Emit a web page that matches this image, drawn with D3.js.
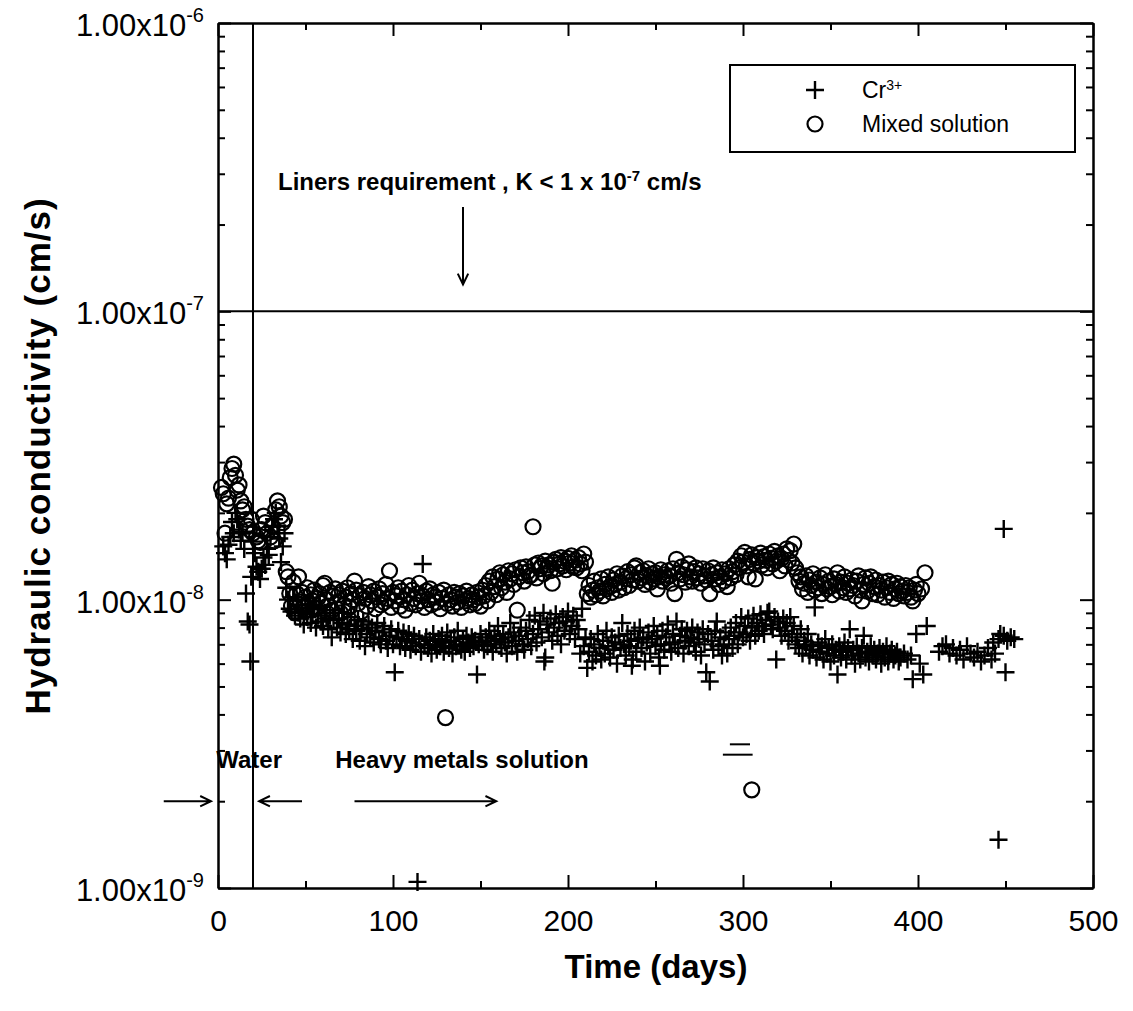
<!doctype html>
<html lang=en>
<head>
<meta charset=utf-8>
<title>Hydraulic conductivity</title>
<script src="https://cdn.jsdelivr.net/npm/d3@7"></script>
<style>
body{margin:0;background:#fff}
text{font-family:"Liberation Sans",Arial,sans-serif;fill:#000}
</style>
</head>
<body>
<div id="chart"></div>
<script>
// values: [time (days), K in units of 1e-9 cm/s]
var crData = [
 [3,15.3],[4,14.5],[5,13.8],[6,15.5],[7,16.5],[8,18.6],[9,17],[10,20],[11,19],[12,17.5],[13,16],[14,17.2],[15,15],[16,10.5],[17,8.4],[18,8.2],[18.5,6.1],[19,12],[20,15.9],[21,14.5],[22,13],[23,12.5],[24,11.8],[25,12.8],[26,14],[27,13.2],[28,15],[29,14.3],[30,16.5],[31,17.9],[32,19],[33,20],[34,18],[35,16.3],[36,13.5],[37,15.3],[38,17],[39,11],[40,10],[41,9.3],[42,9.1],[43,10.2],[44,8.8],[45,9.6],
 [46,9.0],[47,8.6],[48,9.4],[49,8.2],[50,9.1],[51,8.7],[52,9.6],[53,8.3],[54,8.9],[55,9.3],[56,8.0],[57,8.8],[58,9.5],[59,8.4],[60,8.1],[61,9.0],[62,8.6],[63,7.9],[64,8.8],[65,7.4],[66,8.5],[67,9.2],[68,8.0],[69,8.6],[70,7.7],[71,8.3],[72,9.0],[73,7.6],[74,8.2],[75,7.9],[76,8.7],[77,7.3],[78,8.1],[79,7.8],[80,8.5],[81,7.2],[82,7.9],[83,8.4],[84,6.9],[85,7.6],[86,8.2],[87,7.4],[88,8.0],[89,7.1],[90,7.8],[91,8.3],[92,7.3],[93,7.0],[94,7.7],[95,8.1],[96,7.2],[97,6.8],[98,7.5],[99,7.9],[100,7.0],
 [101,5.6],[102,7.4],[103,7.8],[104,6.9],[105,7.3],[106,7.7],[107,6.8],[108,7.2],[109,7.6],[110,6.7],[111,7.1],[112,7.5],[113,6.9],[114,1.05],[115,7.3],[116,6.6],[117,13.3],[118,7.0],[119,7.4],[120,6.8],[121,7.2],[122,6.5],[123,7.6],[124,7.0],[125,6.7],[126,7.3],[127,6.9],[128,7.5],[129,6.6],[130,7.1],[131,7.7],[132,6.8],[133,7.2],[134,6.5],[135,7.4],[136,6.9],[137,7.8],[138,7.0],[139,6.7],[140,7.3],[141,6.6],[142,7.5],[143,7.1],[144,6.8],[145,7.4],[146,6.9],[147,7.2],[148,5.5],[149,7.0],[150,7.6],
 [151,7.1],[152,6.7],[153,7.4],[154,6.9],[155,7.8],[156,7.2],[157,6.6],[158,7.5],[159,7.0],[160,8.1],[161,7.3],[162,6.8],[163,7.6],[164,7.1],[165,6.5],[166,7.4],[167,8.3],[168,6.9],[169,7.7],[170,7.2],[171,6.6],[172,7.5],[173,8.0],[174,7.0],[175,6.7],[176,7.8],[177,7.3],[178,8.5],[179,6.9],[180,7.6],[181,8.8],[182,7.1],[183,7.9],[184,8.4],[185,7.4],[186,9.0],[186.5,6.1],[187,6.3],[188,8.2],[189,7.7],[190,8.6],[191,7.2],[192,8.0],[193,8.9],[194,7.5],[195,8.3],[196,7.0],[197,8.7],[198,7.8],[199,8.4],[200,9.1],[201,7.6],[202,8.1],[203,8.8],[204,7.3],[205,8.5],[206,7.9],[207,6.5],[208,9.3],[209,6.9],[210,7.4],[211,5.8],
 [212,6.6],[213,7.3],[214,6.1],[215,7.0],[216,6.4],[217,7.6],[218,6.8],[219,6.2],[220,7.2],[221,6.5],[222,7.8],[223,6.9],[224,6.3],[225,7.4],[226,6.7],[227,7.1],[228,6.0],[229,7.5],[230,6.8],[231,8.3],[232,7.0],[233,6.4],[234,7.6],[235,6.9],[236,7.2],[236.5,5.9],[237,6.2],[238,7.8],[239,6.6],[240,7.3],[241,8.0],[242,6.8],[243,7.4],[244,6.1],[245,7.1],[246,7.7],[247,6.5],[248,7.3],[249,8.1],[250,6.9],[251,7.5],[252,6.3],[252.5,5.9],[253,7.0],[254,7.8],[255,6.7],[256,7.4],[257,8.2],[258,7.0],[259,6.6],[260,7.6],
 [261,7.1],[262,8.4],[263,6.8],[264,7.5],[265,7.9],[266,6.5],[267,7.2],[268,7.8],[269,6.9],[270,7.4],[271,8.0],[272,7.1],[273,6.6],[274,7.7],[275,7.3],[276,6.4],[277,7.9],[278,7.0],[279,5.6],[280,7.6],[281,5.2],[282,7.2],[283,6.7],[284,7.8],[285,8.4],[286,6.9],[287,7.4],[288,6.4],[289,7.0],[290,7.7],[291,6.5],[292,7.3],[293,8.0],[294,6.8],[295,7.5],[296,8.3],[297,7.0],[298,7.7],[299,8.7],[300,7.4],
 [301,8.1],[302,7.6],[303,8.6],[304,7.2],[305,8.0],[306,8.8],[307,7.5],[308,8.3],[309,7.8],[310,8.9],[311,8.1],[312,7.6],[313,8.5],[314,9.0],[315,9.1],[316,8.2],[317,7.9],[318,8.7],[319,6.2],[320,8.4],[321,8.0],[322,7.5],[323,8.6],[324,7.8],[325,8.3],[326,7.2],[327,8.7],[328,7.6],[329,8.1],[330,7.0],
 [331,7.4],[332,6.8],[333,7.9],[334,6.5],[335,7.2],[336,6.9],[337,7.6],[338,6.4],[339,7.0],[340,6.7],[341,9.4],[342,6.3],[343,7.1],[344,6.6],[345,6.9],[346,6.2],[347,7.3],[348,6.5],[349,6.8],[350,6.1],[351,7.0],[352,6.4],[353,6.7],[354,5.5],[355,6.9],[356,6.3],[357,6.6],[358,7.1],[359,6.2],[360,6.8],[361,7.9],[362,6.4],[363,6.7],[364,6.0],[365,6.9],[366,6.5],[367,6.2],[368,6.8],[369,7.5],[370,6.3],[371,6.6],[372,6.1],[373,6.9],[374,6.4],[375,6.7],[376,6.2],[377,6.5],[378,6.8],[379,6.0],[380,6.6],[381,6.3],[382,6.9],[383,6.1],[384,6.5],[385,6.7],[386,6.2],[387,6.4],[388,6.6],[389,6.1],[390,6.3],[392,6.5],[394,6.2],[396,6.4],[397,5.3],[399,7.6],[401,6.0],[403,5.5],[405,8.1],
 [412,6.6],[414,6.9],[416,7.0],[418,6.5],[420,6.8],[422,6.4],[424,6.7],[426,6.2],[428,6.9],[430,6.5],[432,6.3],[434,6.6],[436,6.1],[438,6.4],[440,6.8],[442,6.2],[443,7.1],[444,6.5],[446,7.3],[446,1.47],[447,7.6],[449,17.6],[449,7.5],[450,5.6],[451,7.2],[453,7.4],[455,7.3]
];

var mixData = [
 [2,24.5],[3,23.3],[4,17.0],[5,21.5],[6,22.5],[7,26.5],[8,28.5],[9,29.5],[10,27],[11,24],[12,25],[13,22],[14,20.5],[15,21],[16,19],[17,18],[18,17.5],[19,19],[20,17],[22,16.5],[23,16],[24,15.8],[25,17.5],[26,19.5],[27,18.5],[28,17],[30,16.5],[31,18],[32,16],[33,20.5],[34,22],[35,21],[36,19.5],[37,18.5],[38,19],[39,12.5],[40,12],[41,10.5],[42,9.5],[43,11.5],[44,9],[45,10.5],[46,12],
 [47,9.8],[48,10.6],[49,9.4],[50,10.2],[51,11.0],[52,9.6],[53,10.4],[54,9.9],[55,10.8],[56,9.3],[57,10.1],[58,10.5],[59,9.7],[60,11.2],[61,11.4],[62,10.0],[63,9.5],[64,10.6],[65,9.2],[66,10.3],[67,10.9],[68,9.8],[69,10.4],[70,9.0],[71,10.7],[72,9.6],[73,10.2],[74,11.0],[75,9.4],[76,10.5],[77,10.0],[78,11.6],[79,10.8],[80,9.7],[81,10.3],[82,9.1],[83,10.6],[84,10.1],[85,9.5],[86,11.1],[87,10.4],[88,9.9],[89,10.7],[90,9.3],[91,10.2],[92,10.9],[93,9.6],[94,10.5],[95,9.8],[96,11.3],[97,10.1],[98,12.6],[99,9.4],[100,10.6],
 [101,9.9],[102,10.3],[103,11.0],[104,9.5],[105,10.7],[106,10.0],[107,9.2],[108,10.4],[109,11.2],[110,9.7],[111,10.8],[112,10.1],[113,9.6],[114,10.5],[115,11.4],[116,9.9],[117,10.3],[118,9.4],[119,10.7],[120,10.0],[121,10.9],[122,9.6],[123,10.4],[124,10.2],[125,9.8],[126,10.6],[127,9.3],[128,10.1],[129,10.8],[130,3.9],[131,9.7],[132,10.4],[133,10.0],[134,9.5],[135,10.6],[136,10.2],[137,9.8],[138,10.5],[139,9.4],[140,10.3],[141,9.9],[142,10.7],[143,10.1],[144,9.6],[145,10.4],[146,10.0],[147,9.7],[148,10.6],[149,10.2],[150,9.5],
 [151,10.8],[152,10.3],[153,11.2],[154,9.9],[155,11.6],[156,10.6],[157,12.0],[158,11.1],[159,10.4],[160,11.8],[161,12.4],[162,11.0],[163,12.2],[164,11.5],[165,10.6],[166,12.6],[167,11.8],[168,12.3],[169,11.3],[170,12.7],[171,9.2],[172,12.0],[173,12.9],[174,12.4],[175,11.6],[176,13.0],[177,12.5],[178,12.1],[179,12.2],[180,17.9],[181,13.2],[182,11.9],[183,13.4],[184,12.8],[185,13.1],[186,12.3],[187,13.6],[188,12.9],[189,13.2],[190,12.6],[191,11.4],[192,13.5],[193,13.8],[194,12.8],[195,13.3],[196,14.0],[197,13.1],[198,13.6],[199,12.7],[200,13.9],[201,13.4],[202,14.2],[203,13.0],[204,13.7],[205,12.9],[206,14.0],[207,13.3],[208,12.6],[209,14.4],[210,13.5],
 [211,10.5],[212,11.2],[213,10.2],[214,10.8],[215,11.6],[216,10.4],[217,11.0],[218,10.7],[219,11.8],[220,10.3],[221,11.3],[222,10.9],[223,12.0],[224,11.1],[225,10.6],[226,11.7],[227,11.3],[228,12.3],[229,10.8],[230,11.5],[231,12.1],[232,11.0],[233,11.8],[234,12.5],[235,11.2],[236,12.2],[237,11.7],[238,12.9],[239,13.1],[240,11.6],[241,12.4],[242,11.9],[243,12.6],[244,11.3],[245,12.1],[246,12.8],[247,11.5],[248,12.3],[249,11.8],[250,12.4],[251,10.9],[252,12.0],[253,12.7],[254,11.6],[255,12.2],[256,11.9],[257,12.6],[258,12.1],[259,11.4],[260,12.8],
 [261,10.5],[262,13.8],[263,12.4],[264,11.8],[265,13.0],[266,12.2],[267,11.5],[268,12.7],[269,13.3],[270,12.0],[271,11.6],[272,12.5],[273,12.9],[274,11.9],[275,12.3],[276,11.4],[277,12.8],[278,12.1],[279,11.7],[280,12.6],[281,10.5],[282,12.2],[283,12.9],[284,11.8],[285,12.4],[286,11.3],[287,12.0],[288,12.7],[289,11.6],[290,12.3],[291,11.1],[292,12.8],[293,11.9],[294,12.5],[295,13.2],[296,12.2],[297,13.6],[298,12.9],[299,14.2],[300,13.5],
 [301,14.6],[302,13.1],[303,12.0],[304,13.8],[305,14.3],[305,2.19],[306,13.4],[307,11.8],[308,14.0],[309,13.6],[310,14.5],[311,13.2],[312,14.1],[313,13.7],[314,12.9],[315,14.4],[316,13.9],[317,13.3],[318,14.7],[319,13.6],[320,14.2],[321,12.6],[322,13.9],[323,14.4],[324,13.1],[325,15.0],[326,13.7],[327,14.8],[328,13.4],[329,15.6],[330,12.9],
 [331,12.4],[332,11.6],[333,12.0],[334,10.9],[335,11.4],[336,12.1],[337,10.6],[338,11.7],[339,11.2],[340,12.3],[341,10.8],[342,11.5],[343,11.0],[344,11.9],[345,10.5],[346,11.3],[347,12.2],[348,10.9],[349,11.6],[350,11.1],[351,10.4],[352,11.8],[353,11.3],[354,12.4],[355,10.7],[356,11.5],[357,11.0],[358,12.0],[359,10.6],[360,11.4],[361,10.9],[362,11.7],[363,11.2],[364,10.3],[365,11.6],[366,12.1],[367,10.8],[368,9.9],[369,11.3],[370,11.9],[371,10.7],[372,11.4],[373,12.0],[374,10.5],[375,11.1],[376,11.7],[377,10.4],[378,11.2],[379,10.8],[380,11.5],[381,10.2],[382,11.0],[383,11.6],[384,10.6],[385,11.3],[386,10.1],[387,10.9],[388,11.4],[389,10.5],[390,11.1],[391,10.7],[392,10.3],[393,11.2],[394,10.6],[395,11.0],[396,10.2],[397,9.9],[398,10.8],[399,11.3],[400,10.5],[402,10.9],[404,12.4]
];

var xTicks = [0, 100, 200, 300, 400, 500];
var xMinor = [50, 150, 250, 350, 450];
var yExp = [-9, -8, -7, -6];
var kUnit = 1e-9;
var waterEnd = 20;     // day the permeant changed
var linerLimit = 1e-7; // cm/s
// two short stray strokes printed in the original figure: [from day, to day, K]
var strayMarks = [[292.5, 304, 3.15e-9], [288.5, 305.5, 2.9e-9]];

var w = 1133, h = 1011;
var svg = d3.select("#chart").append("svg").attr("width", w).attr("height", h);

var x = d3.scaleLinear().domain([0, 500]).range([218, 1093]);
var y = d3.scaleLog().domain([1e-9, 1e-6]).range([888, 23]);

var yMajor = yExp.map(function(e) { return Math.pow(10, e); });
var yMinor = [];
yExp.slice(0, 3).forEach(function(e) {
  for (var m = 2; m <= 9; m++) yMinor.push(m * Math.pow(10, e));
});

function styleAxis(g) {
  g.selectAll("path.domain").attr("stroke", "#000").attr("stroke-width", 2);
  g.selectAll(".tick line").attr("stroke", "#000").attr("stroke-width", 2);
  g.selectAll(".tick text").style("font-family", "'Liberation Sans', Arial, sans-serif").style("font-size", "30px").attr("fill", "#000");
}

// bottom / top
svg.append("g").attr("transform", "translate(0," + y.range()[0] + ")")
  .call(d3.axisBottom(x).tickValues(xTicks).tickSize(-13).tickSizeOuter(0).tickPadding(22).tickFormat(d3.format("d")))
  .call(styleAxis);
svg.append("g").attr("transform", "translate(0," + y.range()[0] + ")")
  .call(d3.axisBottom(x).tickValues(xMinor).tickSize(-7).tickSizeOuter(0).tickFormat(""))
  .call(styleAxis);
svg.append("g").attr("transform", "translate(0," + y.range()[1] + ")")
  .call(d3.axisTop(x).tickValues(xTicks).tickSize(-13).tickSizeOuter(0).tickFormat(""))
  .call(styleAxis);
svg.append("g").attr("transform", "translate(0," + y.range()[1] + ")")
  .call(d3.axisTop(x).tickValues(xMinor).tickSize(-7).tickSizeOuter(0).tickFormat(""))
  .call(styleAxis);

// left / right
svg.append("g").attr("transform", "translate(" + x.range()[0] + ",0)")
  .call(d3.axisLeft(y).tickValues(yMajor).tickSize(-13).tickSizeOuter(0).tickFormat(""))
  .call(styleAxis);
svg.append("g").attr("transform", "translate(" + x.range()[0] + ",0)")
  .call(d3.axisLeft(y).tickValues(yMinor).tickSize(-7).tickSizeOuter(0).tickFormat(""))
  .call(styleAxis);
svg.append("g").attr("transform", "translate(" + x.range()[1] + ",0)")
  .call(d3.axisRight(y).tickValues(yMajor).tickSize(-13).tickSizeOuter(0).tickFormat(""))
  .call(styleAxis);
svg.append("g").attr("transform", "translate(" + x.range()[1] + ",0)")
  .call(d3.axisRight(y).tickValues(yMinor).tickSize(-7).tickSizeOuter(0).tickFormat(""))
  .call(styleAxis);

// y tick labels 1.00x10^n
yExp.forEach(function(e) {
  var t = svg.append("text").attr("x", 204).attr("y", y(Math.pow(10, e)) + 13)
    .attr("text-anchor", "end").style("font-size", "31px");
  t.append("tspan").text("1.00x10");
  t.append("tspan").attr("dy", -14).style("font-size", "20px").text(String(e));
});

// axis titles
svg.append("text").attr("x", 656).attr("y", 978).attr("text-anchor", "middle")
  .style("font-size", "33px").style("font-weight", "bold").text("Time (days)");
svg.append("text").attr("transform", "translate(50,456) rotate(-90)").attr("text-anchor", "middle")
  .style("font-size", "35px").style("font-weight", "bold").style("letter-spacing", "1px")
  .text("Hydraulic conductivity (cm/s)");

// reference lines
svg.append("line").attr("x1", x(0)).attr("x2", x(500)).attr("y1", y(linerLimit)).attr("y2", y(linerLimit))
  .attr("stroke", "#000").attr("stroke-width", 2);
svg.append("line").attr("x1", x(waterEnd)).attr("x2", x(waterEnd)).attr("y1", y(1e-9)).attr("y2", y(1e-6))
  .attr("stroke", "#000").attr("stroke-width", 2);

// annotations
function arrow(x1, y1, x2, y2) {
  var a = Math.atan2(y2 - y1, x2 - x1), s = 12, sp = 0.45;
  svg.append("path")
    .attr("d", "M" + x1 + "," + y1 + "L" + x2 + "," + y2 +
      "M" + (x2 - s * Math.cos(a - sp)) + "," + (y2 - s * Math.sin(a - sp)) + "L" + x2 + "," + y2 +
      "L" + (x2 - s * Math.cos(a + sp)) + "," + (y2 - s * Math.sin(a + sp)))
    .attr("fill", "none").attr("stroke", "#000").attr("stroke-width", 2);
}
var lt = svg.append("text").attr("x", 278).attr("y", 190).style("font-size", "24px").style("font-weight", "bold");
lt.append("tspan").text("Liners requirement , K < 1 x 10");
lt.append("tspan").attr("dy", -9).style("font-size", "15px").text("-7");
lt.append("tspan").attr("dy", 9).text(" cm/s");
arrow(x(140), y(2.3e-7), x(140), y(1.24e-7));

svg.append("text").attr("x", x(-1)).attr("y", y(2.6e-9)).style("font-size", "24px").style("font-weight", "bold").text("Water");
svg.append("text").attr("x", x(67)).attr("y", y(2.6e-9)).style("font-size", "24px").style("font-weight", "bold").text("Heavy metals solution");
arrow(x(-31), y(2e-9), x(-4), y(2e-9));
arrow(x(48), y(2e-9), x(23.5), y(2e-9));
arrow(x(78), y(2e-9), x(159), y(2e-9));

svg.append("g").selectAll("line").data(strayMarks).enter().append("line")
  .attr("x1", function(d) { return x(d[0]); }).attr("x2", function(d) { return x(d[1]); })
  .attr("y1", function(d) { return y(d[2]); }).attr("y2", function(d) { return y(d[2]); })
  .attr("stroke", "#000").attr("stroke-width", 2);

// scatter
var plus = "M-9,0H9M0,-9V9";
svg.append("g").selectAll("path").data(crData).enter().append("path")
  .attr("d", plus)
  .attr("transform", function(d) { return "translate(" + x(d[0]) + "," + y(d[1] * kUnit) + ")"; })
  .attr("stroke", "#000").attr("stroke-width", 2.4).attr("fill", "none");
svg.append("g").selectAll("circle").data(mixData).enter().append("circle")
  .attr("cx", function(d) { return x(d[0]); })
  .attr("cy", function(d) { return y(d[1] * kUnit); })
  .attr("r", 7.5).attr("fill", "none").attr("stroke", "#000").attr("stroke-width", 2.2);

// legend
var lg = svg.append("g").attr("transform", "translate(730,65)");
lg.append("rect").attr("width", 345).attr("height", 87).attr("fill", "#fff").attr("stroke", "#000").attr("stroke-width", 2);
lg.append("path").attr("d", plus).attr("transform", "translate(85,25)").attr("stroke", "#000").attr("stroke-width", 2.4);
lg.append("circle").attr("cx", 85).attr("cy", 59).attr("r", 7.5).attr("fill", "none").attr("stroke", "#000").attr("stroke-width", 2.2);
var lc = lg.append("text").attr("x", 132).attr("y", 33).style("font-size", "23px");
lc.append("tspan").text("Cr");
lc.append("tspan").attr("dy", -8).style("font-size", "14px").text("3+");
lg.append("text").attr("x", 132).attr("y", 67).style("font-size", "23px").text("Mixed solution");
</script>
</body>
</html>
